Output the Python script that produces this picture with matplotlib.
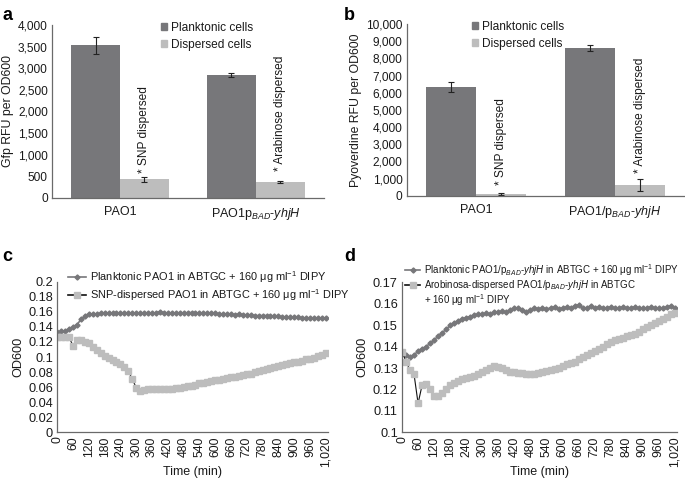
import numpy as np
import matplotlib
matplotlib.use("Agg")
import matplotlib.pyplot as plt
from matplotlib.patches import Patch
from matplotlib.lines import Line2D

plt.rcParams['font.family'] = ['Liberation Sans', 'DejaVu Sans']
plt.rcParams['mathtext.fontset'] = 'custom'
plt.rcParams['mathtext.rm'] = 'Liberation Sans'
plt.rcParams['mathtext.it'] = 'Liberation Sans:italic'
plt.rcParams['mathtext.bf'] = 'Liberation Sans:bold'

# ---------------- data ----------------
bar_cats_a = ["PAO1", r"PAO1p$_{\mathit{BAD}}$-$\mathit{yhjH}$"]
bar_cats_b = ["PAO1", r"PAO1/p$_{\mathit{BAD}}$-$\mathit{yhjH}$"]
series_names = ["Planktonic cells", "Dispersed cells"]

gfp_planktonic = [3530, 2850]
gfp_planktonic_err = [200, 50]
gfp_dispersed = [430, 370]
gfp_dispersed_err = [60, 20]

pyo_planktonic = [6350, 8600]
pyo_planktonic_err = [300, 180]
pyo_dispersed = [120, 600]
pyo_dispersed_err = [60, 350]

dispersal_labels = ["* SNP dispersed", "* Arabinose dispersed"]

time_min = list(range(0, 1021, 15))

c_planktonic = [
    0.133, 0.134, 0.135, 0.137, 0.140, 0.143, 0.150, 0.154, 0.157, 0.157,
    0.157, 0.158, 0.159, 0.158, 0.158, 0.158, 0.158, 0.159, 0.158, 0.158,
    0.159, 0.158, 0.158, 0.159, 0.158, 0.159, 0.160, 0.159, 0.158, 0.159,
    0.158, 0.159, 0.158, 0.159, 0.159, 0.158, 0.158, 0.158, 0.159, 0.158,
    0.158, 0.157, 0.157, 0.157, 0.157, 0.156, 0.157, 0.156, 0.156, 0.156,
    0.155, 0.155, 0.155, 0.155, 0.154, 0.154, 0.154, 0.153, 0.153, 0.153,
    0.153, 0.153, 0.152, 0.152, 0.152, 0.152, 0.152, 0.152, 0.152]
c_dispersed = [
    0.127, 0.127, 0.127, 0.126, 0.115, 0.123, 0.122, 0.120, 0.118, 0.114,
    0.110, 0.106, 0.102, 0.099, 0.096, 0.094, 0.091, 0.087, 0.081, 0.071,
    0.059, 0.055, 0.056, 0.057, 0.057, 0.057, 0.058, 0.058, 0.058, 0.058,
    0.059, 0.059, 0.060, 0.061, 0.062, 0.063, 0.065, 0.066, 0.067, 0.068,
    0.069, 0.070, 0.071, 0.072, 0.073, 0.074, 0.075, 0.076, 0.077, 0.078,
    0.080, 0.081, 0.083, 0.084, 0.085, 0.087, 0.088, 0.089, 0.091, 0.092,
    0.093, 0.094, 0.095, 0.097, 0.098, 0.099, 0.101, 0.103, 0.105]

d_planktonic = [
    0.1375, 0.136, 0.135, 0.136, 0.138, 0.139, 0.140, 0.1415, 0.143, 0.145,
    0.1465, 0.148, 0.150, 0.151, 0.152, 0.153, 0.1535, 0.154, 0.1545, 0.155,
    0.155, 0.1555, 0.155, 0.156, 0.156, 0.1565, 0.156, 0.157, 0.158, 0.158,
    0.157, 0.156, 0.157, 0.158, 0.1575, 0.158, 0.1575, 0.158, 0.1585, 0.1575,
    0.158, 0.1585, 0.158, 0.159, 0.1595, 0.158, 0.158, 0.159, 0.158, 0.1585,
    0.158, 0.158, 0.1585, 0.158, 0.158, 0.1585, 0.158, 0.158, 0.1585, 0.158,
    0.158, 0.158, 0.1585, 0.158, 0.158, 0.158, 0.1585, 0.159, 0.158]
d_dispersed = [
    0.1375, 0.133, 0.129, 0.127, 0.1135, 0.122, 0.1225, 0.120, 0.117, 0.117,
    0.1185, 0.120, 0.122, 0.123, 0.124, 0.125, 0.1255, 0.126, 0.1265, 0.127,
    0.128, 0.129, 0.130, 0.131, 0.1305, 0.130, 0.129, 0.128, 0.128, 0.1278,
    0.1275, 0.127, 0.127, 0.127, 0.1275, 0.128, 0.1285, 0.129, 0.1295, 0.130,
    0.131, 0.132, 0.1325, 0.133, 0.134, 0.135, 0.136, 0.137, 0.138, 0.139,
    0.140, 0.141, 0.142, 0.143, 0.1435, 0.144, 0.145, 0.1455, 0.146, 0.147,
    0.148, 0.149, 0.150, 0.151, 0.152, 0.153, 0.154, 0.155, 0.1555]

c_labels = [r"Planktonic PAO1 in ABTGC + 160 μg ml$^{-1}$ DIPY",
            r"SNP-dispersed PAO1 in ABTGC + 160 μg ml$^{-1}$ DIPY"]
d_labels = [r"Planktonic PAO1/p$_{\mathit{BAD}}$-$\mathit{yhjH}$ in ABTGC + 160 μg ml$^{-1}$ DIPY",
            r"Arobinosa-dispersed PAO1/p$_{\mathit{BAD}}$-$\mathit{yhjH}$ in ABTGC",
            r"+ 160 μg ml$^{-1}$ DIPY"]

# ---------------- style ----------------
DARK = "#77777a"
LIGHT = "#bdbdbd"
TXT = "#1a1a1a"
SPINE = "#6a6a6a"
FS = 8.6

fig = plt.figure(figsize=(6.85, 4.84), dpi=100)

def style_axes(ax):
    for s in ["top", "right"]:
        ax.spines[s].set_visible(False)
    for s in ["left", "bottom"]:
        ax.spines[s].set_color(SPINE)
        ax.spines[s].set_linewidth(0.9)
    ax.tick_params(colors=TXT, labelsize=FS, length=0, pad=3)

def bar_panel(rect, plank, plank_err, disp, disp_err, cats, ylim, yticks, ylabel, text_y, leg_anchor):
    ax = fig.add_axes(rect)
    style_axes(ax)
    x = np.arange(len(cats))
    w = 0.36
    ax.bar(x - w / 2, plank, w, color=DARK, yerr=plank_err,
           error_kw=dict(ecolor="#222222", elinewidth=0.8, capsize=2, capthick=0.8))
    ax.bar(x + w / 2, disp, w, color=LIGHT, yerr=disp_err,
           error_kw=dict(ecolor="#222222", elinewidth=0.8, capsize=2, capthick=0.8))
    ax.set_xlim(-0.5, 1.5)
    ax.set_ylim(*ylim)
    ax.set_yticks(yticks)
    ax.set_yticklabels([f"{v:,}" for v in yticks])
    ax.set_xticks(x)
    ax.set_xticklabels(cats, fontsize=FS + 0.4)
    ax.tick_params(axis="x", pad=6)
    ax.set_ylabel(ylabel, fontsize=FS + 0.2, color=TXT, labelpad=3)
    for i, lab in enumerate(dispersal_labels):
        ax.text(x[i] + w / 2, text_y[i], lab, rotation=90, ha="center", va="bottom",
                fontsize=FS, color=TXT)
    handles = [Patch(color=DARK), Patch(color=LIGHT)]
    ax.legend(handles, series_names, loc="upper left", bbox_to_anchor=leg_anchor,
              frameon=False, fontsize=FS, handlelength=0.55, handleheight=0.55,
              handletextpad=0.3, labelspacing=0.45, borderpad=0, borderaxespad=0,
              labelcolor=TXT)
    return ax

bar_panel([0.0759, 0.5915, 0.397, 0.3568], gfp_planktonic, gfp_planktonic_err,
          gfp_dispersed, gfp_dispersed_err, bar_cats_a, (0, 4000),
          list(range(0, 4001, 500)), "Gfp RFU per OD600", [580, 610], (0.40, 1.02))
bar_panel([0.5937, 0.5957, 0.405, 0.3547], pyo_planktonic, pyo_planktonic_err,
          pyo_dispersed, pyo_dispersed_err, bar_cats_b, (0, 10000),
          list(range(0, 10001, 1000)), "Pyoverdine RFU per OD600", [650, 1350], (0.235, 1.02))

def line_panel(rect, plank, disp, ylim, yticks, ytlabels, labels, leg_anchor, leg_fs, leg_sp):
    ax = fig.add_axes(rect)
    style_axes(ax)
    ax.plot(time_min, plank, color=DARK, lw=1.2, marker="D", ms=2.6, mec=DARK, mfc=DARK)
    ax.plot(time_min, disp, color="#111111", lw=0.8, marker="s", ms=4.8, mec=LIGHT, mfc=LIGHT)
    ax.set_xlim(0, 1028)
    ax.set_ylim(*ylim)
    ax.set_yticks(yticks)
    ax.set_yticklabels(ytlabels, fontsize=FS + 0.6)
    xt = list(range(0, 1021, 60))
    ax.set_xticks(xt)
    ax.set_xticklabels([f"{v:,}" for v in xt], rotation=90, fontsize=FS + 0.2)
    ax.set_xlabel("Time (min)", fontsize=FS + 0.4, color=TXT)
    ax.xaxis.set_label_coords(0.5, -0.225)
    ax.set_ylabel("OD600", fontsize=FS + 0.6, color=TXT, labelpad=3)
    h = [Line2D([], [], color=DARK, lw=1.2, marker="D", ms=2.6),
         Line2D([], [], color="#111111", lw=1.2, marker="s", ms=4.0, mec=LIGHT, mfc=LIGHT)]
    if len(labels) == 3:
        h.append(Line2D([], [], color="none"))
    ax.legend(h, labels, loc="upper left", bbox_to_anchor=leg_anchor, frameon=False,
              fontsize=leg_fs, handlelength=1.6, handletextpad=0.4, labelspacing=leg_sp,
              borderpad=0, borderaxespad=0, labelcolor=TXT)
    return ax

c_ticks = [0, 0.02, 0.04, 0.06, 0.08, 0.1, 0.12, 0.14, 0.16, 0.18, 0.2]
line_panel([0.0836, 0.1068, 0.395, 0.311], c_planktonic, c_dispersed, (0, 0.2),
           c_ticks, ["0", "0.02", "0.04", "0.06", "0.08", "0.1", "0.12", "0.14", "0.16", "0.18", "0.2"],
           c_labels, (0.04, 1.085), 7.9, 0.22)
d_ticks = [0.1, 0.11, 0.12, 0.13, 0.14, 0.15, 0.16, 0.17]
line_panel([0.5869, 0.1068, 0.4015, 0.31], d_planktonic, d_dispersed, (0.1, 0.17),
           d_ticks, ["0.1", "0.11", "0.12", "0.13", "0.14", "0.15", "0.16", "0.17"],
           d_labels, (0.01, 1.135), 7.0, 0.02)

for lab, xx, yy in [("a", 0.004, 0.985), ("b", 0.502, 0.985), ("c", 0.004, 0.488), ("d", 0.502, 0.488)]:
    fig.text(xx, yy, lab, fontsize=13, fontweight="bold", ha="left", va="top", color="#000000")

fig.savefig("out.png", dpi=100)
